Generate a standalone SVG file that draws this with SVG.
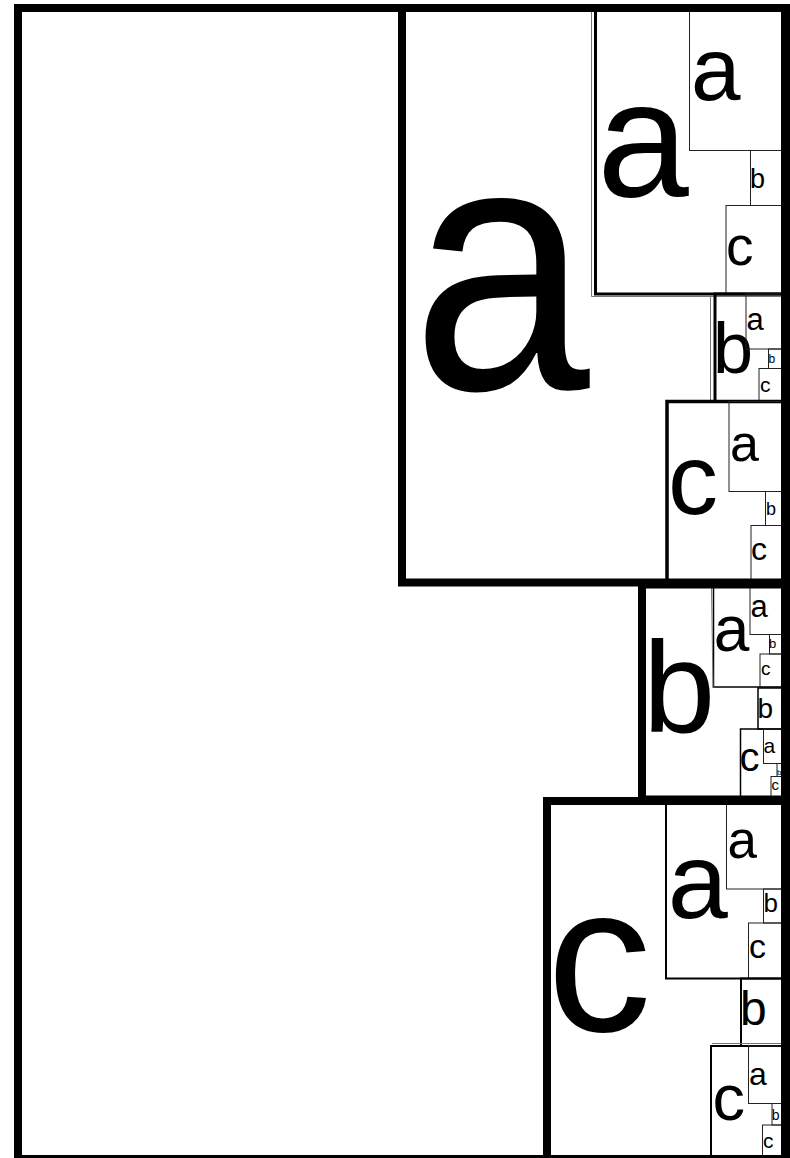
<svg xmlns="http://www.w3.org/2000/svg" width="790" height="1158" viewBox="0 0 790 1158">
<style>
rect{fill:none;stroke:#000}
rect.bg{fill:#fff;stroke:none}
.d0{stroke-width:8}
.d1{stroke-width:8}
.d2{stroke-width:2}
.d3{stroke-width:1;stroke:#222}
.g{stroke:#777;stroke-width:1;fill:none}
text{font-family:"Liberation Sans",Arial,Helvetica,sans-serif;fill:#000}
</style>
<rect class="bg" x="0" y="0" width="790" height="1158"/>
<g id="root"><rect class="d0" x="18" y="8" width="768" height="1151"/></g>

<g id="A">
 <text transform="translate(412 389) scale(0.9 1)" font-size="355">a</text>
 <g id="A-a">
  <rect class="d2" x="595.5" y="10" width="188.5" height="284" style="stroke-width:3"/>
  <path class="g" d="M591.5 4V296.5H782"/>
  <text x="597" y="196" font-size="165">a</text>
  <g id="A-a-a"><rect class="d3" x="689.5" y="10" width="95" height="140.5"/><text x="691" y="99.5" font-size="89">a</text></g>
  <g id="A-a-b"><rect class="d3" x="750.5" y="150.5" width="34" height="55"/><text x="750" y="188" font-size="27">b</text></g>
  <g id="A-a-c"><rect class="d3" x="726" y="205.5" width="58" height="88.5"/><text x="726" y="264.5" font-size="55">c</text></g>
 </g>
 <g id="A-b">
  <rect class="d2" x="715" y="294" width="69" height="107.5" style="stroke-width:3"/>
  <path class="g" d="M710.5 296V403"/>
  <text x="713" y="373" font-size="72">b</text>
  <g id="A-b-a"><rect class="d3" x="746" y="294" width="38" height="55"/><text x="746.5" y="330" font-size="31">a</text></g>
  <g id="A-b-b"><rect class="d3" x="768.5" y="349" width="16" height="19.5"/><text x="768.5" y="363" font-size="12">b</text></g>
  <g id="A-b-c"><rect class="d3" x="759" y="368.5" width="25" height="33"/><text x="760" y="391.5" font-size="21">c</text></g>
 </g>
 <g id="A-c">
  <rect class="d2" x="667" y="401.5" width="117" height="180.5" style="stroke-width:3.5"/>
  <text x="668" y="514" font-size="100">c</text>
  <g id="A-c-a"><rect class="d3" x="729" y="401.5" width="55" height="90"/><text x="730" y="461" font-size="52">a</text></g>
  <g id="A-c-b"><rect class="d3" x="765.5" y="491.5" width="18.5" height="34"/><text x="766" y="515" font-size="18">b</text></g>
  <g id="A-c-c"><rect class="d3" x="751" y="525.5" width="33" height="56.5"/><text x="751" y="560" font-size="32">c</text></g>
 </g>
 <rect class="d1" x="402" y="8" width="383" height="574.5"/>
</g>

<g id="B">
 <text x="643" y="732" font-size="130">b</text>
 <g id="B-a">
  <rect class="d2" x="713.5" y="586" width="70.5" height="101" style="stroke-width:1.5"/>
  <path class="g" d="M711.5 588L713 688"/>
  <text x="713.7" y="651" font-size="64">a</text>
  <g id="B-a-a"><rect class="d3" x="750" y="586" width="34" height="48.5"/><text x="750.6" y="616.5" font-size="31">a</text></g>
  <g id="B-a-b"><rect class="d3" x="769.5" y="634.5" width="14.5" height="19.5"/><text x="769" y="648" font-size="13">b</text></g>
  <g id="B-a-c"><rect class="d3" x="760" y="654" width="24" height="33"/><text x="761" y="675" font-size="19">c</text></g>
 </g>
 <g id="B-b">
  <rect class="d2" x="758" y="688" width="26" height="41" style="stroke-width:1.5"/>
  <text x="757.5" y="718" font-size="28">b</text>
 </g>
 <g id="B-c">
  <rect class="d2" x="740.5" y="729" width="43.5" height="70.5" style="stroke-width:1.5"/>
  <text x="739.5" y="771" font-size="40">c</text>
  <g id="B-c-a"><rect class="d3" x="763.5" y="729" width="20.5" height="34.5"/><text x="763.5" y="752.5" font-size="21">a</text></g>
  <g id="B-c-b"><rect class="d3" x="777" y="763.5" width="7" height="13"/><text x="777" y="775" font-size="8">b</text></g>
  <g id="B-c-c"><rect class="d3" x="771" y="776.5" width="13" height="23"/><text x="771.5" y="790" font-size="15">c</text></g>
 </g>
 <rect class="d1" x="642" y="584.5" width="143" height="215"/>
</g>

<g id="C">
 <text x="547" y="1031" font-size="209">c</text>
 <g id="C-a">
  <rect class="d2" x="666" y="801" width="118" height="177.5"/>
  <text x="667.7" y="918" font-size="108">a</text>
  <g id="C-a-a"><rect class="d3" x="726.5" y="801" width="57.5" height="88"/><text x="727.5" y="858" font-size="53">a</text></g>
  <g id="C-a-b"><rect class="d3" x="763.5" y="889" width="20.5" height="34"/><text x="763.5" y="911.5" font-size="26">b</text></g>
  <g id="C-a-c"><rect class="d3" x="748.5" y="923" width="35.5" height="55.5"/><text x="749" y="958" font-size="34">c</text></g>
 </g>
 <g id="C-b">
  <rect class="d2" x="741" y="978.5" width="43" height="67.5"/>
  <text x="740" y="1025" font-size="48">b</text>
 </g>
 <g id="C-c">
  <rect class="d2" x="711" y="1046" width="73" height="113"/>
  <path class="g" d="M712 1043.5H782"/>
  <text x="712.4" y="1119.5" font-size="65">c</text>
  <g id="C-c-a"><rect class="d3" x="748.5" y="1046" width="35.5" height="57.5"/><text x="749" y="1085" font-size="32">a</text></g>
  <g id="C-c-b"><rect class="d3" x="772" y="1103.5" width="12" height="21.5"/><text x="771.8" y="1120" font-size="14">b</text></g>
  <g id="C-c-c"><rect class="d3" x="762.5" y="1125" width="21.5" height="34"/><text x="763" y="1148" font-size="21">c</text></g>
 </g>
 <rect class="d1" x="547" y="801" width="238" height="358"/>
</g>
<g id="connectors"></g>
</svg>
